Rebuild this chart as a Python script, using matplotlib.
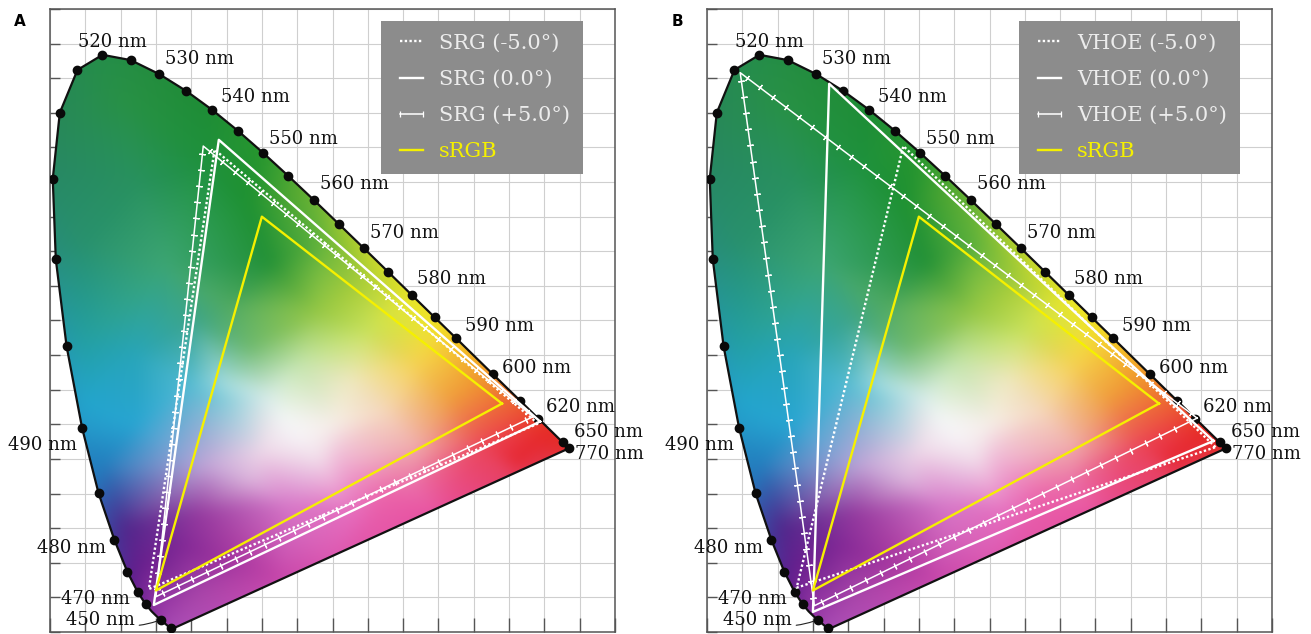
import numpy as np
import matplotlib
matplotlib.use("Agg")
import matplotlib.pyplot as plt
import matplotlib.tri as mtri
from matplotlib.patches import Polygon
from matplotlib.lines import Line2D

# ---------------- data ----------------
# CIE 1931 spectral locus (wavelength nm, x, y)
wl = [380, 385, 390, 395, 400, 405, 410, 415, 420, 425, 430, 435, 440, 445, 450, 455,
      460, 465, 470, 475, 480, 485, 490, 495, 500, 505, 510, 515, 520, 525, 530, 535,
      540, 545, 550, 555, 560, 565, 570, 575, 580, 585, 590, 595, 600, 605, 610, 615,
      620, 625, 630, 635, 640, 645, 650, 655, 660, 665, 670, 675, 680, 685, 690, 695, 700]
lx = [0.1741, 0.1740, 0.1738, 0.1736, 0.1733, 0.1730, 0.1726, 0.1721, 0.1714, 0.1703,
      0.1689, 0.1669, 0.1644, 0.1611, 0.1566, 0.1510, 0.1440, 0.1355, 0.1241, 0.1096,
      0.0913, 0.0687, 0.0454, 0.0235, 0.0082, 0.0039, 0.0139, 0.0389, 0.0743, 0.1142,
      0.1547, 0.1929, 0.2296, 0.2658, 0.3016, 0.3373, 0.3731, 0.4087, 0.4441, 0.4788,
      0.5125, 0.5448, 0.5752, 0.6029, 0.6270, 0.6482, 0.6658, 0.6801, 0.6915, 0.7006,
      0.7079, 0.7140, 0.7190, 0.7230, 0.7260, 0.7283, 0.7300, 0.7311, 0.7320, 0.7327,
      0.7334, 0.7340, 0.7344, 0.7346, 0.7347]
ly = [0.0050, 0.0050, 0.0049, 0.0049, 0.0048, 0.0048, 0.0048, 0.0048, 0.0051, 0.0058,
      0.0069, 0.0086, 0.0109, 0.0138, 0.0177, 0.0227, 0.0297, 0.0399, 0.0578, 0.0868,
      0.1327, 0.2007, 0.2950, 0.4127, 0.5384, 0.6548, 0.7502, 0.8120, 0.8338, 0.8262,
      0.8059, 0.7816, 0.7543, 0.7243, 0.6923, 0.6589, 0.6245, 0.5896, 0.5547, 0.5202,
      0.4866, 0.4544, 0.4242, 0.3965, 0.3725, 0.3514, 0.3340, 0.3197, 0.3083, 0.2993,
      0.2920, 0.2859, 0.2809, 0.2770, 0.2740, 0.2717, 0.2700, 0.2689, 0.2680, 0.2673,
      0.2666, 0.2660, 0.2656, 0.2654, 0.2653]

dot_wl = [420, 450, 465, 470, 475, 480, 485, 490, 495, 500, 505, 510, 515, 520, 525, 530,
          535, 540, 545, 550, 555, 560, 565, 570, 575, 580, 585, 590, 600, 610, 620, 650, 700]

label_text = ["520 nm", "530 nm", "540 nm", "550 nm", "560 nm", "570 nm", "580 nm",
              "590 nm", "600 nm", "620 nm", "650 nm", "770 nm", "490 nm", "480 nm",
              "470 nm", "450 nm"]
label_wl = [520, 530, 540, 550, 560, 570, 580, 590, 600, 620, 650, 700, 490, 480, 470, 450]

# gamut triangles: (R, G, B) chromaticities
srgb = [(0.64, 0.33), (0.30, 0.60), (0.15, 0.06)]
srg_m5 = [(0.691, 0.301), (0.233, 0.697), (0.140, 0.062)]
srg_0 = [(0.694, 0.304), (0.239, 0.711), (0.147, 0.039)]
srg_p5 = [(0.684, 0.311), (0.217, 0.702), (0.150, 0.051)]
vhoe_m5 = [(0.720, 0.267), (0.278, 0.702), (0.127, 0.064)]
vhoe_0 = [(0.717, 0.276), (0.173, 0.792), (0.150, 0.029)]
vhoe_p5 = [(0.694, 0.309), (0.047, 0.808), (0.152, 0.038)]

legend_a = ["SRG (-5.0°)", "SRG (0.0°)", "SRG (+5.0°)", "sRGB"]
legend_b = ["VHOE (-5.0°)", "VHOE (0.0°)", "VHOE (+5.0°)", "sRGB"]

# colours of the diagram
edge_key_wl = [380, 450, 460, 470, 475, 480, 485, 490, 495, 500, 505, 510, 520, 530, 540,
               550, 555, 560, 565, 570, 575, 580, 585, 590, 595, 600, 610, 620, 700]
edge_key_rgb = [(170, 80, 185), (140, 50, 160), (115, 35, 145), (95, 30, 140), (80, 35, 145),
                (60, 65, 160), (40, 110, 185), (35, 150, 200), (35, 150, 175), (40, 140, 125),
                (40, 135, 100), (38, 135, 85), (35, 140, 75), (35, 140, 62), (30, 140, 52),
                (40, 150, 45), (70, 165, 50), (110, 180, 50), (160, 200, 45), (200, 215, 40),
                (225, 225, 35), (240, 230, 30), (245, 215, 30), (245, 200, 30), (245, 175, 35),
                (240, 140, 40), (235, 85, 40), (230, 50, 40), (225, 40, 40)]
purple_t = [0.0, 0.15, 0.35, 0.6, 0.85, 1.0]
purple_rgb = [(225, 40, 40), (230, 60, 95), (232, 80, 160), (220, 85, 175), (185, 75, 180),
              (170, 80, 185)]
inner_xy = [(0.105, 0.767), (0.046, 0.738), (0.046, 0.562), (0.163, 0.533), (0.046, 0.416),
            (0.050, 0.330), (0.075, 0.240), (0.105, 0.153), (0.122, 0.094), (0.152, 0.036),
            (0.339, 0.182), (0.456, 0.153), (0.514, 0.211), (0.632, 0.270), (0.701, 0.282),
            (0.602, 0.357), (0.544, 0.445), (0.456, 0.504), (0.385, 0.562), (0.310, 0.533),
            (0.280, 0.621), (0.222, 0.679), (0.354, 0.389), (0.354, 0.282), (0.251, 0.357),
            (0.193, 0.357), (0.222, 0.240), (0.212, 0.172), (0.425, 0.364), (0.449, 0.436),
            (0.200, 0.450), (0.120, 0.400), (0.120, 0.300), (0.300, 0.260), (0.410, 0.250),
            (0.120, 0.650), (0.250, 0.470), (0.378, 0.461), (0.283, 0.412), (0.307, 0.340),
            (0.236, 0.340), (0.283, 0.220), (0.188, 0.123), (0.425, 0.172), (0.520, 0.267),
            (0.567, 0.340), (0.520, 0.389), (0.472, 0.195), (0.613, 0.267), (0.661, 0.244),
            (0.520, 0.100), (0.330, 0.075), (0.212, 0.051), (0.472, 0.316), (0.150, 0.100),
            (0.400, 0.300), (0.330, 0.310), (0.380, 0.250)]
inner_rgb = [(40, 145, 70), (40, 140, 85), (40, 145, 110), (60, 165, 115), (35, 160, 165),
             (35, 165, 205), (35, 125, 190), (80, 40, 140), (100, 30, 140), (150, 55, 165),
             (215, 120, 200), (230, 90, 170), (235, 110, 170), (235, 60, 80), (230, 40, 40),
             (240, 150, 50), (240, 228, 40), (180, 210, 55), (100, 180, 60), (35, 145, 55),
             (30, 145, 50), (30, 145, 60), (195, 228, 170), (247, 244, 247), (170, 222, 225),
             (80, 185, 210), (195, 165, 215), (150, 60, 160), (238, 232, 190), (200, 225, 90),
             (60, 165, 140), (40, 165, 185), (40, 165, 210), (238, 215, 232), (240, 185, 215),
             (40, 145, 95), (80, 170, 100), (150, 200, 70), (110, 185, 110), (215, 236, 232),
             (120, 200, 215), (220, 180, 220), (130, 40, 150), (230, 110, 190), (240, 170, 170),
             (240, 160, 60), (245, 210, 80), (235, 100, 170), (235, 70, 90), (230, 40, 50),
             (230, 80, 160), (200, 70, 170), (170, 70, 170), (245, 215, 190), (115, 35, 145),
             (246, 238, 232), (242, 246, 245), (242, 222, 235)]

# ---------------- build colour image ----------------
lx_a = np.array(lx); ly_a = np.array(ly)
white = np.array([0.33, 0.33])
anchor_wl = [380, 430] + list(range(440, 655, 5)) + [675, 700]
idx = [wl.index(w) for w in anchor_wl]
bpts = np.column_stack([lx_a[idx], ly_a[idx]])
bcol = np.column_stack([np.interp(anchor_wl, edge_key_wl, [c[i] for c in edge_key_rgb])
                        for i in range(3)])
p_red = np.array([lx[-1], ly[-1]]); p_vio = np.array([lx[0], ly[0]])
ppts = np.array([p_red + t * (p_vio - p_red) for t in purple_t[1:-1]])
pcol = np.array(purple_rgb[1:-1], dtype=float)
edge_pts = np.vstack([bpts, ppts])
edge_pts = white + 1.06 * (edge_pts - white)
all_pts = np.vstack([edge_pts, np.array(inner_xy)])
all_col = np.vstack([bcol, pcol, np.array(inner_rgb, dtype=float)])

tri = mtri.Triangulation(all_pts[:, 0], all_pts[:, 1])
nx, ny = 480, 540
gx, gy = np.meshgrid(np.linspace(0, 0.8, nx), np.linspace(0, 0.9, ny))


def box_blur(a, r):
    k = np.ones(2 * r + 1) / (2 * r + 1)
    f = lambda v: np.convolve(np.pad(v, r, mode="edge"), k, mode="valid")
    a = np.apply_along_axis(f, 0, a)
    a = np.apply_along_axis(f, 1, a)
    return a


channels = []
for i in range(3):
    interp = mtri.LinearTriInterpolator(tri, all_col[:, i])
    z = interp(gx, gy)
    m = (~np.ma.getmaskarray(z)).astype(float)
    zf = np.ma.filled(z, 0.0)
    num = box_blur(box_blur(zf * m, 7), 5)
    den = box_blur(box_blur(m, 7), 5)
    channels.append(num / np.maximum(den, 1e-6))
img = np.clip(np.dstack(channels) / 255.0, 0, 1)

# ---------------- figure ----------------
fig = plt.figure(figsize=(13.11, 6.34), dpi=100)
W, H = 1311, 634
SERIF = "DejaVu Serif"
LW = 1.7


def tri_closed(v):
    xs = [p[0] for p in v] + [v[0][0]]
    ys = [p[1] for p in v] + [v[0][1]]
    return xs, ys


def draw_ticked(ax, v, color="white"):
    xs, ys = tri_closed(v)
    ax.plot(xs, ys, color=color, lw=1.1, zorder=6)
    for k in range(3):
        x0, y0, x1, y1 = xs[k], ys[k], xs[k + 1], ys[k + 1]
        lpx = np.hypot((x1 - x0) * 706, (y1 - y0) * 692)
        n = max(int(lpx / 16), 1)
        t = (np.arange(n) + 0.5) / n
        ang = np.degrees(np.arctan2((y1 - y0) * 692, (x1 - x0) * 706))
        ax.plot(x0 + t * (x1 - x0), y0 + t * (y1 - y0), ls="none",
                marker=(2, 2, ang), ms=4.5, mew=0.9, color=color, zorder=6)


def panel(left_px, tri_m5, tri_0, tri_p5, names, letter):
    ax = fig.add_axes([left_px / W, 2 / H, 565 / W, 623 / H])
    ax.set_xlim(0, 0.8)
    ax.set_ylim(0, 0.9)
    ax.set_xticks(np.arange(0, 0.801, 0.05))
    ax.set_yticks(np.arange(0, 0.901, 0.05))
    ax.set_xticklabels([]); ax.set_yticklabels([])
    ax.tick_params(axis="y", direction="in", length=7, width=1.0, color="#555555",
                   left=True, right=False)
    ax.tick_params(axis="x", direction="in", length=10, width=1.0, color="#555555",
                   bottom=True, top=False)
    ax.grid(True, color="#cfcfcf", lw=0.8, zorder=0)
    ax.set_axisbelow(True)
    for s in ax.spines.values():
        s.set_color("#555555"); s.set_linewidth(1.1)

    loc = Polygon(np.column_stack([lx_a, ly_a]), closed=True, facecolor="none",
                  edgecolor="#111111", lw=1.6, zorder=4)
    ax.add_patch(loc)
    im = ax.imshow(img, extent=[0, 0.8, 0, 0.9], origin="lower", aspect="auto",
                   interpolation="bilinear", zorder=2)
    im.set_clip_path(loc)

    dx = [lx[wl.index(w)] for w in dot_wl]
    dy = [ly[wl.index(w)] for w in dot_wl]
    ax.plot(dx, dy, "o", color="#0a0a0a", ms=6, zorder=5)

    offs = [(10, 13), (40, 15), (43, 13), (40, 14), (41, 16), (41, 15), (40, 16),
            (43, 12), (44, 6), (42, 12), (46, 10), (41, -6), (-40, -17), (-43, -8),
            (-42, -7), (-60, 0)]
    for txt, w, o in zip(label_text, label_wl, offs):
        i = wl.index(w)
        kw = {}
        if w == 450:
            kw = dict(arrowprops=dict(arrowstyle="-", lw=0.8, color="#222222",
                                      shrinkA=1, shrinkB=3,
                                      connectionstyle="arc3,rad=0.2"))
        ax.annotate(txt, (lx[i], ly[i]), xytext=o, textcoords="offset pixels",
                    ha="center", va="center", fontsize=13, family=SERIF,
                    color="#111111", zorder=7, annotation_clip=False, **kw)

    xs, ys = tri_closed(tri_m5)
    ax.plot(xs, ys, color="white", lw=LW, ls=(0, (1.0, 1.0)), zorder=6)
    xs, ys = tri_closed(tri_0)
    ax.plot(xs, ys, color="white", lw=LW, zorder=6)
    draw_ticked(ax, tri_p5)
    xs, ys = tri_closed(srgb)
    ax.plot(xs, ys, color="#f5f000", lw=LW, zorder=6)

    handles = [Line2D([], [], color="white", lw=LW, ls=(0, (1.0, 1.0))),
               Line2D([], [], color="white", lw=LW),
               Line2D([], [], color="white", lw=1.1, marker="|", ms=5, mew=0.9),
               Line2D([], [], color="#f5f000", lw=LW)]
    leg = ax.legend(handles, names, loc="upper right", bbox_to_anchor=(0.943, 0.981),
                    borderaxespad=0, frameon=True, fancybox=False, framealpha=1,
                    facecolor="#8c8c8c", edgecolor="none", numpoints=2,
                    handlelength=1.7, handletextpad=0.45, labelspacing=0.82,
                    borderpad=0.62, prop=dict(family=SERIF, size=15))
    leg.set_zorder(10)
    for t_ in leg.get_texts():
        t_.set_color("#ececec")
    leg.get_texts()[3].set_color("#f5f000")

    fig.text((left_px - 30) / W, 1 - 21 / H, letter, ha="center", va="center",
             fontsize=11, fontweight="bold", family="DejaVu Sans")
    return ax


panel(50, srg_m5, srg_0, srg_p5, legend_a, "A")
panel(707, vhoe_m5, vhoe_0, vhoe_p5, legend_b, "B")

fig.savefig("out.png", dpi=100, facecolor="white")
